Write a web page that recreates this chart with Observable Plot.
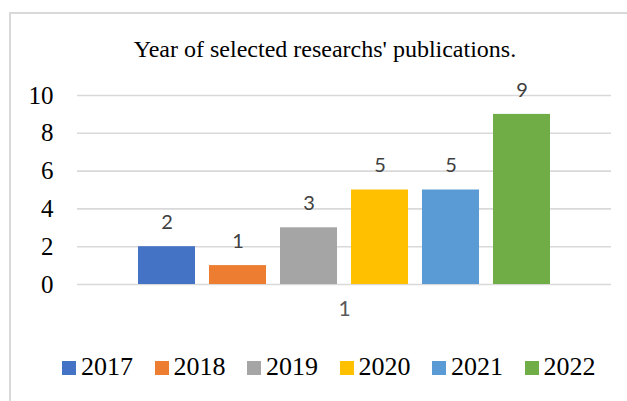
<!DOCTYPE html>
<html>
<head>
<meta charset="utf-8">
<script src="https://cdn.jsdelivr.net/npm/d3@7"></script>
<script src="https://cdn.jsdelivr.net/npm/@observablehq/plot@0.6"></script>
<style>
  html, body { margin: 0; padding: 0; background: #fff; }
  #wrap { position: relative; width: 627px; height: 401px; overflow: hidden; background: #fff; }
  #border { position: absolute; left: 9px; top: 12px; width: 800px; height: 600px;
            border-top: 2px solid #d9d9d9; border-left: 2px solid #d9d9d9; }
  #title { position: absolute; left: 0; width: 650px; top: 37px; text-align: center;
           font-family: "Liberation Serif", "Times New Roman", serif; font-size: 24px; line-height: 1; color: #000; white-space: nowrap; }
  #chart { position: absolute; left: 0; top: 0; }
  #legend { position: absolute; left: 62px; top: 354px; display: flex; gap: 21.5px;
            font-family: "Liberation Serif", "Times New Roman", serif; font-size: 26px; line-height: 1; color: #000; }
  #legend .item { white-space: nowrap; }
  #legend .sw { display: inline-block; width: 14px; height: 14px; margin-right: 5px; vertical-align: baseline; }
</style>
</head>
<body>
<div id="wrap">
  <div id="border"></div>
  <div id="chart"></div>
  <div id="title"></div>
  <div id="legend"></div>
</div>
<script>
const titleText = "Year of selected researchs' publications.";
const years = ["2017", "2018", "2019", "2020", "2021", "2022"];
const counts = [2, 1, 3, 5, 5, 9];
const colors = ["#4472C4", "#ED7D31", "#A5A5A5", "#FFC000", "#5B9BD5", "#70AD47"];
const categories = ["1"];
const yTicks = [0, 2, 4, 6, 8, 10];

const data = years.map((y, i) => ({year: y, count: counts[i]}));

document.getElementById("title").textContent = titleText;

const chart = Plot.plot({
  width: 627,
  height: 401,
  marginTop: 95,
  marginBottom: 117,
  marginLeft: 77,
  marginRight: 16,
  style: {background: "transparent", color: "#000"},
  x: {domain: years, range: [130, 557], paddingInner: 0.2, paddingOuter: 0.1, axis: null},
  y: {domain: [0, 10], axis: null},
  color: {domain: years, range: colors},
  marks: [
    Plot.gridY(yTicks, {stroke: "#d9d9d9", strokeOpacity: 1, strokeWidth: 1.6}),
    Plot.axisY(yTicks, {tickSize: 0, tickPadding: 24, label: null, fontSize: 25, fontFamily: "Liberation Serif", fill: "#000"}),
    Plot.barY(data, {x: "year", y: "count", fill: "year"}),
    Plot.text(data, {x: "year", y: "count", text: d => String(d.count), dy: -24,
      fontSize: 20, fontFamily: "Lato", fill: "#404040"}),
    Plot.text(categories, {text: d => d, frameAnchor: "bottom", dy: 31,
      fontSize: 21, fontFamily: "Lato", fill: "#595959"})
  ]
});
document.getElementById("chart").appendChild(chart);

const legend = d3.select("#legend");
years.forEach((y, i) => {
  const item = legend.append("div").attr("class", "item");
  item.append("span").attr("class", "sw").style("background", colors[i]);
  item.append("span").text(y);
});
</script>
</body>
</html>
